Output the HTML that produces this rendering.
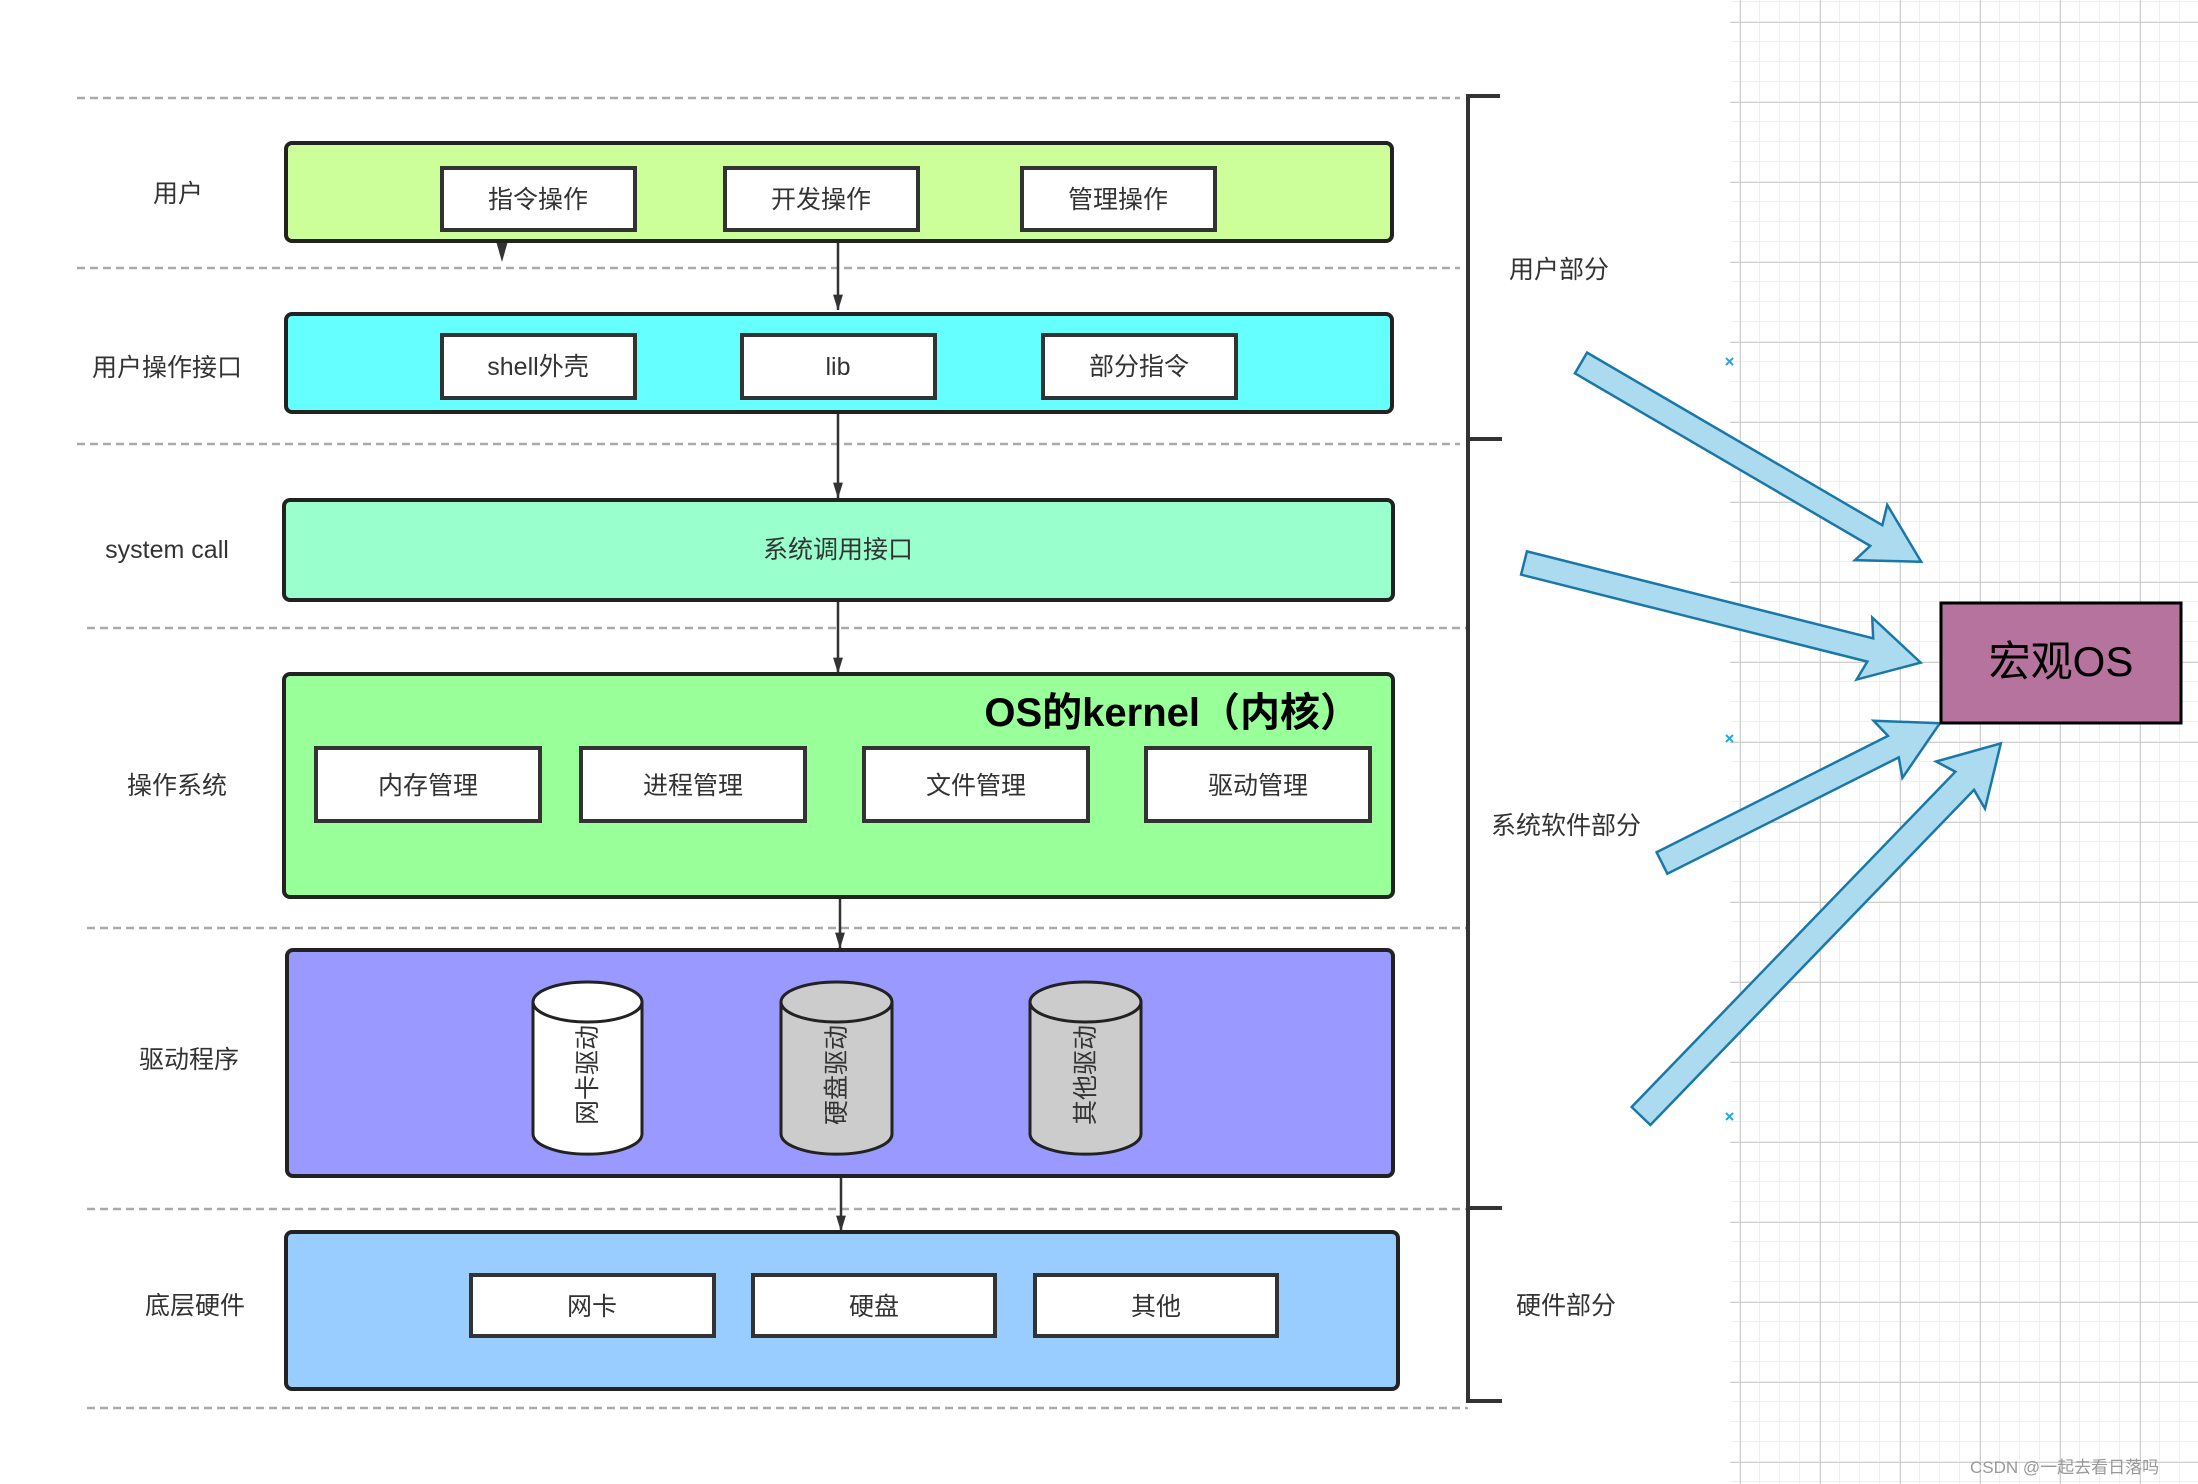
<!DOCTYPE html>
<html><head><meta charset="utf-8"><style>
html,body{margin:0;padding:0;background:#fff;}
svg{display:block}
text{font-family:"Liberation Sans","Noto Sans CJK SC",sans-serif;}
</style></head><body>
<svg width="2198" height="1484" viewBox="0 0 2198 1484" xmlns="http://www.w3.org/2000/svg">
<defs>
<pattern id="minor" x="0" y="2" width="20" height="20" patternUnits="userSpaceOnUse">
<path d="M20 0V20M0 20H20" fill="none" stroke="#efefef" stroke-width="2"/>
</pattern>
<pattern id="major" x="60" y="22" width="80" height="80" patternUnits="userSpaceOnUse">
<path d="M0 0V80M0 0H80" fill="none" stroke="#cfcfcf" stroke-width="2"/>
</pattern>
<marker id="ah" markerWidth="16" markerHeight="26" refX="25" refY="8" orient="auto" markerUnits="userSpaceOnUse" viewBox="0 0 26 16">
<path d="M0,0 L26,8 L0,16 Z" fill="#333"/>
</marker>
</defs>
<rect x="1730" y="0" width="468" height="1484" fill="url(#minor)"/>
<rect x="1730" y="0" width="468" height="1484" fill="url(#major)"/>

<g stroke="#aaa" stroke-width="2.5" stroke-dasharray="8,5">
<line x1="77" y1="98" x2="1460" y2="98"/>
<line x1="77" y1="268" x2="1460" y2="268"/>
<line x1="77" y1="444" x2="1460" y2="444"/>
<line x1="87" y1="628" x2="1468" y2="628"/>
<line x1="87" y1="928" x2="1468" y2="928"/>
<line x1="87" y1="1209" x2="1468" y2="1209"/>
<line x1="87" y1="1408" x2="1468" y2="1408"/>
</g>
<g stroke="#333" stroke-width="4" fill="none">
<line x1="1468" y1="95" x2="1468" y2="1402"/>
<line x1="1466" y1="96" x2="1500" y2="96"/>
<line x1="1466" y1="439" x2="1502" y2="439"/>
<line x1="1466" y1="1208" x2="1502" y2="1208"/>
<line x1="1466" y1="1401" x2="1502" y2="1401"/>
</g>

<g stroke="#333" stroke-width="2.5" marker-end="url(#ah)">
<line x1="838" y1="241" x2="838" y2="310"/>
<line x1="838" y1="412" x2="838" y2="498"/>
<line x1="838" y1="600" x2="838" y2="673"/>
<line x1="840" y1="897" x2="840" y2="948"/>
<line x1="841" y1="1176" x2="841" y2="1231"/>
</g>
<path d="M496,241 L508,241 L502,262 Z" fill="#333"/>

<g stroke="#222" stroke-width="4">
<rect x="286" y="143" width="1106" height="98" rx="6" fill="#ccff99"/>
<rect x="286" y="314" width="1106" height="98" rx="6" fill="#66ffff"/>
<rect x="284" y="500" width="1109" height="100" rx="6" fill="#99ffcc"/>
<rect x="284" y="674" width="1109" height="223" rx="6" fill="#99ff99"/>
<rect x="287" y="950" width="1106" height="226" rx="6" fill="#9999ff"/>
<rect x="286" y="1232" width="1112" height="157" rx="6" fill="#99ccff"/>
</g>
<g stroke="#333" stroke-width="4" fill="#fff">
<rect x="442" y="168" width="193" height="62"/>
<rect x="725" y="168" width="193" height="62"/>
<rect x="1022" y="168" width="193" height="62"/>
<rect x="442" y="335" width="193" height="63"/>
<rect x="742" y="335" width="193" height="63"/>
<rect x="1043" y="335" width="193" height="63"/>
<rect x="316" y="748" width="224" height="73"/>
<rect x="581" y="748" width="224" height="73"/>
<rect x="864" y="748" width="224" height="73"/>
<rect x="1146" y="748" width="224" height="73"/>
<rect x="471" y="1275" width="243" height="61"/>
<rect x="753" y="1275" width="242" height="61"/>
<rect x="1035" y="1275" width="242" height="61"/>
</g>
<g stroke="#222" stroke-width="3">
<path d="M533,1002 L533,1134 A54,20 0 0 0 642,1134 L642,1002" fill="#fff"/>
<ellipse cx="587.5" cy="1002" rx="54.5" ry="20" fill="#fff"/>
<path d="M781,1002 L781,1134 A55,20 0 0 0 892,1134 L892,1002" fill="#ccc"/>
<ellipse cx="836.5" cy="1002" rx="55.5" ry="20" fill="#ccc"/>
<path d="M1030,1002 L1030,1134 A55,20 0 0 0 1141,1134 L1141,1002" fill="#ccc"/>
<ellipse cx="1085.5" cy="1002" rx="55.5" ry="20" fill="#ccc"/>
</g>

<g font-size="25" fill="#333" text-anchor="middle">
<text x="538" y="208">指令操作</text>
<text x="821" y="208">开发操作</text>
<text x="1118" y="208">管理操作</text>
<text x="538" y="375">shell外壳</text>
<text x="838" y="375">lib</text>
<text x="1139" y="375">部分指令</text>
<text x="838" y="558">系统调用接口</text>
<text x="428" y="794">内存管理</text>
<text x="693" y="794">进程管理</text>
<text x="976" y="794">文件管理</text>
<text x="1258" y="794">驱动管理</text>
<text x="592" y="1315">网卡</text>
<text x="874" y="1315">硬盘</text>
<text x="1156" y="1315">其他</text>
<text transform="translate(596,1075) rotate(-90)">网卡驱动</text>
<text transform="translate(845,1075) rotate(-90)">硬盘驱动</text>
<text transform="translate(1094,1075) rotate(-90)">其他驱动</text>
<text x="178" y="202">用户</text>
<text x="167" y="376">用户操作接口</text>
<text x="167" y="558">system call</text>
<text x="177" y="794">操作系统</text>
<text x="189" y="1068">驱动程序</text>
<text x="195" y="1314">底层硬件</text>
<text x="1559" y="278">用户部分</text>
<text x="1566" y="834">系统软件部分</text>
<text x="1566" y="1314">硬件部分</text>
</g>
<text x="1360" y="726" font-size="40" font-weight="bold" fill="#000" text-anchor="end">OS的kernel（内核）</text>

<g fill="#acdaef" stroke="#1a78a8" stroke-width="2.5">
<g transform="translate(1581,363) rotate(30.3)"><polygon points="0,-12 342,-12 336,-32 394,0 336,32 342,12 0,12"/></g>
<g transform="translate(1524,563) rotate(14.1)"><polygon points="0,-12 357,-12 351,-32 409,0 351,32 357,12 0,12"/></g>
<g transform="translate(1662,863) rotate(-26.7)"><polygon points="0,-12 259,-12 253,-32 311,0 253,32 259,12 0,12"/></g>
<g transform="translate(1641,1116) rotate(-46)"><polygon points="0,-13 466,-13 460,-34 518,0 460,34 466,13 0,13"/></g>
</g>
<rect x="1941" y="603" width="240" height="120" fill="#b5739d" stroke="#000" stroke-width="3"/>
<text x="2061" y="676" font-size="42" fill="#000" text-anchor="middle">宏观OS</text>

<g stroke="#29a8e0" stroke-width="2">
<path d="M1726,358 l7,7 M1733,358 l-7,7"/>
<path d="M1726,735 l7,7 M1733,735 l-7,7"/>
<path d="M1726,1113 l7,7 M1733,1113 l-7,7"/>
</g>
<text x="1970" y="1473" font-size="17" fill="#999">CSDN @一起去看日落吗</text>
</svg>
</body></html>
